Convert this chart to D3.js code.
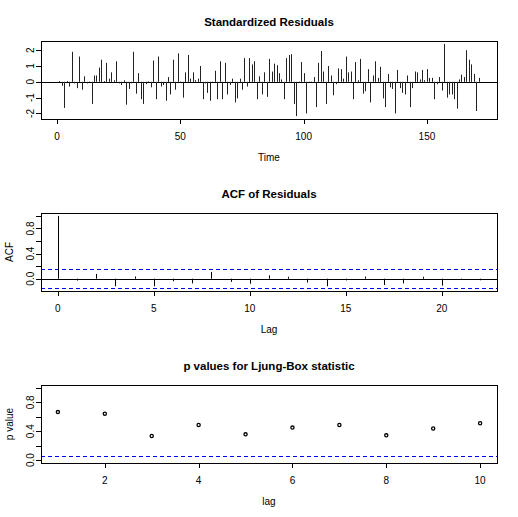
<!DOCTYPE html>
<html><head><meta charset="utf-8">
<script src="https://cdn.jsdelivr.net/npm/d3@7"></script>
<style>
html,body{margin:0;padding:0;background:#fff;}
svg{display:block;}
.lab{font-family:'Liberation Sans Narrow','Arial Narrow','Liberation Sans',Arial,sans-serif;font-size:10px;fill:#000;}
.ttl{font-family:'Liberation Sans',Arial,sans-serif;font-size:11.5px;font-weight:bold;fill:#000;}
</style></head>
<body>
<script>
// ---- data ----
const residuals = [0.05,-0.25,-1.65,0.05,-0.3,1.9,-0.1,-0.4,1.6,-0.5,
0.35,-0.1,0.02,-1.4,0.4,0.4,0.9,1.4,0.05,1.2,
0.2,0.6,0.1,1.3,-0.1,-0.2,0.1,-1.45,-0.45,-0.1,
1.9,-0.75,0.55,-1.1,-1.4,-0.15,0.03,-0.35,1.35,-1.1,
1.6,-0.3,-0.2,-1.2,0.3,-0.8,1.4,-0.5,1.8,0.02,
-1.0,0.6,1.7,0.2,0.6,0.1,0.2,1.0,-1.1,-0.1,
-0.7,-1.2,0.02,0.7,-1.1,1.3,-1.1,1.2,-0.8,-0.2,
0.2,-1.3,-1.05,0.2,-0.5,1.5,-0.3,1.5,1.1,1.3,
-1.1,0.35,-0.8,0.6,-0.95,1.45,0.65,1.15,1.05,0.55,
0.15,-1.1,1.5,1.7,1.75,-1.4,-2.17,0.02,1.25,0.55,
-2.0,0.02,0.02,0.3,-1.6,1.2,1.95,0.65,-1.4,1.0,
0.4,-0.85,-0.15,0.85,0.8,0.2,1.6,0.6,0.65,-1.1,
1.25,0.1,1.45,-0.75,-0.6,0.8,-1.3,0.4,1.3,0.25,
0.95,-1.05,-1.6,0.5,-0.35,-0.45,-2.0,0.75,-0.4,-0.7,
-0.8,0.4,-1.6,-0.4,0.65,0.6,0.15,0.75,0.1,0.8,
0.25,0.25,-1.1,-0.15,0.3,-0.55,2.4,-1.0,-0.8,-0.8,
-1.1,-1.7,0.15,0.45,0.3,2.0,1.4,1.1,0.5,-1.85,0.25];
const acfValues = [1.0,-0.03,0.075,-0.12,0.035,-0.12,-0.04,-0.075,0.107,-0.05,
-0.08,0.053,0.03,-0.06,-0.12,-0.027,0.033,-0.1,-0.075,0.03,-0.11,0.005,-0.025];
const acfCI = 0.15;
const pLags = [1,2,3,4,5,6,7,8,9,10];
const pValues = [0.665,0.643,0.333,0.486,0.357,0.45,0.486,0.343,0.438,0.51];
const pThreshold = 0.05;

const timeTicks = [0,50,100,150];
const residTicks = [-2,-1,0,1,2];
const acfXTicks = [0,5,10,15,20];
const unitTicks = [0,0.2,0.4,0.6,0.8,1.0];
const unitLabels = ["0.0","","0.4","","0.8",""];
const pXTicks = [2,4,6,8,10];

const titles = ["Standardized Residuals","ACF of Residuals","p values for Ljung-Box statistic"];
const xTitles = ["Time","Lag","lag"];
const yTitles = ["","ACF","p value"];

// ---- layout ----
const W=518,H=517;
const L=41,R=497;
const tops=[41,213,385], bots=[119,291,463];

const svg=d3.select("body").append("svg").attr("width",W).attr("height",H);

function pad(ext){const s=ext[1]-ext[0];return [ext[0]-0.04*s, ext[1]+0.04*s];}

function frame(i,x,y,xt,yt,ylab){
  const g=svg.append("g");
  g.selectAll(null).data(xt).enter().append("line")
    .attr("x1",d=>Math.round(x(d))+0.5).attr("x2",d=>Math.round(x(d))+0.5)
    .attr("y1",bots[i]).attr("y2",bots[i]+5).attr("stroke","#000");
  g.selectAll(null).data(xt).enter().append("text").attr("class","lab")
    .attr("x",d=>x(d)).attr("y",bots[i]+20.5).attr("text-anchor","middle").text(d=>d);
  g.append("line").attr("x1",Math.round(x(xt[0]))).attr("x2",Math.round(x(xt[xt.length-1]))+1)
    .attr("y1",bots[i]+0.5).attr("y2",bots[i]+0.5).attr("stroke","#000");
  g.selectAll(null).data(yt).enter().append("line")
    .attr("y1",d=>Math.round(y(d))+0.5).attr("y2",d=>Math.round(y(d))+0.5)
    .attr("x1",L-5).attr("x2",L).attr("stroke","#000");
  g.selectAll(null).data(yt).enter().append("text").attr("class","lab")
    .attr("transform",(d,k)=>`translate(${L-7.5},${y(d)}) rotate(-90)`)
    .attr("text-anchor","middle").text((d,k)=>ylab[k]);
  g.append("rect").attr("x",L+0.5).attr("y",tops[i]+0.5).attr("width",R-L).attr("height",bots[i]-tops[i])
    .attr("fill","none").attr("stroke","#000");
  g.append("text").attr("class","ttl").attr("x",(L+R)/2).attr("y",tops[i]-15.5)
    .attr("text-anchor","middle").text(titles[i]);
  g.append("text").attr("class","lab").attr("x",(L+R)/2).attr("y",bots[i]+41.5)
    .attr("text-anchor","middle").text(xTitles[i]);
  if(yTitles[i]) g.append("text").attr("class","lab")
    .attr("transform",`translate(12.5,${(tops[i]+bots[i])/2}) rotate(-90)`)
    .attr("text-anchor","middle").text(yTitles[i]);
  return g;
}

// Panel 1: standardized residuals
{
  const x=d3.scaleLinear().domain([-6.5,178.4]).range([L,R]);
  const y=d3.scaleLinear().domain(pad(d3.extent(residuals))).range([bots[0],tops[0]]);
  const g=svg.append("g");
  g.append("line").attr("x1",L).attr("x2",R).attr("y1",Math.round(y(0))+0.5).attr("y2",Math.round(y(0))+0.5).attr("stroke","#000");
  g.selectAll(null).data(residuals).enter().append("line")
    .attr("x1",(d,k)=>Math.round(x(k+1))+0.5).attr("x2",(d,k)=>Math.round(x(k+1))+0.5)
    .attr("y1",y(0)).attr("y2",d=>y(d)).attr("stroke","#222").attr("stroke-width",1);
  frame(0,x,y,timeTicks,residTicks,residTicks.map(String));
}
// Panel 2: ACF
{
  const lags=d3.range(acfValues.length);
  const x=d3.scaleLinear().domain(pad([0,lags.length-1])).range([L,R]);
  const y=d3.scaleLinear().domain(pad([Math.min(d3.min(acfValues),-acfCI),1])).range([bots[1],tops[1]]);
  const g=svg.append("g");
  g.append("line").attr("x1",L).attr("x2",R).attr("y1",Math.round(y(0))+0.5).attr("y2",Math.round(y(0))+0.5).attr("stroke","#000");
  [acfCI,-acfCI].forEach(c=>g.append("line").attr("x1",L).attr("x2",R)
    .attr("y1",Math.round(y(c))+0.5).attr("y2",Math.round(y(c))+0.5)
    .attr("stroke","#0000ff").attr("stroke-dasharray","4,3"));
  g.selectAll(null).data(acfValues).enter().append("line")
    .attr("x1",(d,k)=>Math.round(x(lags[k]))+0.5).attr("x2",(d,k)=>Math.round(x(lags[k]))+0.5)
    .attr("y1",y(0)).attr("y2",d=>y(d)).attr("stroke","#000");
  frame(1,x,y,acfXTicks,unitTicks,unitLabels);
}
// Panel 3: Ljung-Box p-values
{
  const x=d3.scaleLinear().domain(pad(d3.extent(pLags))).range([L,R]);
  const y=d3.scaleLinear().domain(pad([0,1])).range([bots[2],tops[2]]);
  const g=svg.append("g");
  g.append("line").attr("x1",L).attr("x2",R).attr("y1",Math.round(y(pThreshold))+0.5).attr("y2",Math.round(y(pThreshold))+0.5)
    .attr("stroke","#0000ff").attr("stroke-dasharray","4,3");
  g.selectAll(null).data(pValues).enter().append("circle")
    .attr("cx",(d,k)=>x(pLags[k])).attr("cy",d=>y(d)).attr("r",1.6)
    .attr("fill","none").attr("stroke","#000").attr("stroke-width",1.3);
  frame(2,x,y,pXTicks,unitTicks,unitLabels);
}
</script>
</body></html>
